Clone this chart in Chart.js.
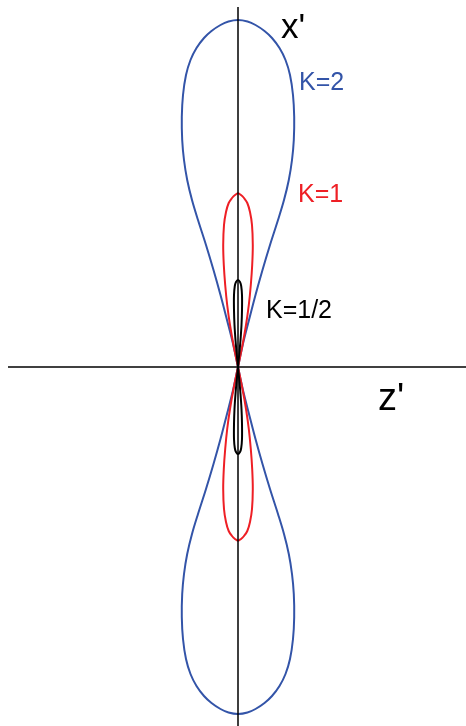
<!DOCTYPE html>
<html>
<head>
<meta charset="utf-8">
<script src="https://cdn.jsdelivr.net/npm/chart.js@4.4.1/dist/chart.umd.min.js"></script>
<style>
  html, body { margin: 0; padding: 0; background: #fff; }
  #lobes { display: block; }
</style>
</head>
<body>
<canvas id="lobes" width="466" height="726"></canvas>
<script>
// 波瓣轮廓：沿 x' 轴的高度 与 对应的半宽 (z' 方向)
const blueRise = [0, 22, 47, 72, 97, 122, 147, 167, 187, 207, 227, 250, 272, 292, 307, 319, 329, 336, 342, 345.5, 347];
const blueHalf = [0, 4.7, 11, 17.5, 24.5, 32, 40, 46, 50.8, 54, 55.8, 56.2, 55, 52, 47.5, 41.5, 34, 26.5, 17.5, 9.5, 0];

const redRise = [0, 22, 42, 62, 82, 102, 122, 142, 155, 164, 169, 172, 173.7];
const redHalf = [0, 4.5, 8, 10.8, 12.8, 14.2, 14.8, 14, 12, 9.3, 6, 3, 0];

const blackRise = [0, 12, 27, 42, 57, 72, 81, 85, 87];
const blackHalf = [0, 1.2, 2.5, 3.5, 4, 4, 3.2, 2, 0];

// 坐标轴范围
const zRange = [-238, 228];
const xRange = [-359, 367];

// 标注
const labelText = ["x'", "z'", 'K=2', 'K=1', 'K=1/2'];
const labelColor = ['#000000', '#000000', '#3354a8', '#ee1f25', '#000000'];

// 上下两个波瓣各自闭合于原点
function lobe(rise, half, sign) {
  const pts = [];
  for (let i = 0; i < rise.length; i++) pts.push({ x: half[i], y: sign * rise[i] });
  for (let i = rise.length - 2; i >= 0; i--) pts.push({ x: -half[i], y: sign * rise[i] });
  return pts;
}

function curve(rise, half, sign, color, order) {
  return {
    data: lobe(rise, half, sign),
    borderColor: color,
    borderWidth: 2,
    pointRadius: 0,
    showLine: true,
    fill: false,
    tension: 0.35,
    order: order
  };
}

function axisLine(pts) {
  return {
    data: pts,
    borderColor: '#000',
    borderWidth: 1.5,
    pointRadius: 0,
    showLine: true,
    tension: 0,
    order: 0
  };
}

// 文字标签
const labelPlugin = {
  id: 'labels',
  afterDatasetsDraw(chart) {
    const ctx = chart.ctx;
    const pos = [[281, 38, 35], [378, 410, 38], [299, 90, 25], [298, 202, 25], [266, 318, 25]];
    ctx.save();
    ctx.textBaseline = 'alphabetic';
    ctx.textAlign = 'left';
    labelText.forEach((t, i) => {
      ctx.font = pos[i][2] + 'px "Liberation Sans", Arial, sans-serif';
      ctx.fillStyle = labelColor[i];
      ctx.fillText(t, pos[i][0], pos[i][1]);
    });
    ctx.restore();
  }
};

const ctx = document.getElementById('lobes').getContext('2d');
new Chart(ctx, {
  type: 'scatter',
  data: {
    datasets: [
      axisLine([{ x: -230, y: 0 }, { x: 228, y: 0 }]),
      axisLine([{ x: 0, y: 360 }, { x: 0, y: -359 }]),
      curve(blackRise, blackHalf, 1, '#000000', 1),
      curve(blackRise, blackHalf, -1, '#000000', 1),
      curve(redRise, redHalf, 1, '#ee1f25', 2),
      curve(redRise, redHalf, -1, '#ee1f25', 2),
      curve(blueRise, blueHalf, 1, '#3354a8', 3),
      curve(blueRise, blueHalf, -1, '#3354a8', 3)
    ]
  },
  options: {
    responsive: false,
    animation: false,
    clip: false,
    layout: { padding: 0 },
    plugins: {
      legend: { display: false },
      tooltip: { enabled: false }
    },
    scales: {
      x: { type: 'linear', min: zRange[0], max: zRange[1], display: false },
      y: { type: 'linear', min: xRange[0], max: xRange[1], display: false }
    }
  },
  plugins: [labelPlugin]
});
</script>
</body>
</html>
